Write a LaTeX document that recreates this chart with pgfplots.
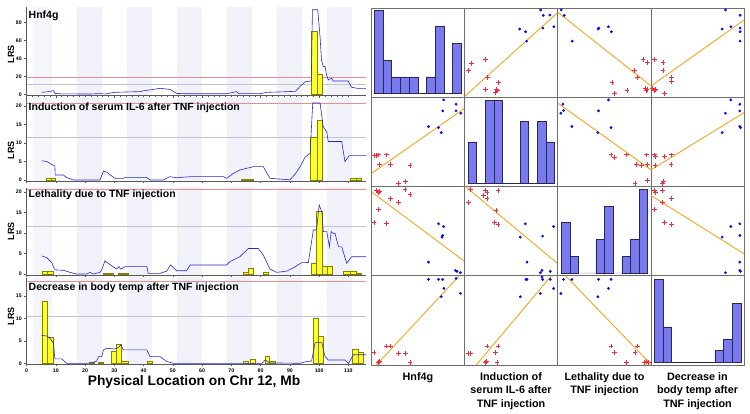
\documentclass[border=0pt]{standalone}
\usepackage{pgfplots}
\pgfplotsset{compat=1.18}
\usepackage{fontspec}
\setmainfont{Liberation Sans}
\definecolor{bandc}{RGB}{241,241,250}
\definecolor{bandl}{RGB}{245,245,252}
\definecolor{redthr}{RGB}{232,140,140}
\definecolor{graythr}{RGB}{195,195,212}
\definecolor{lrsblue}{RGB}{40,40,210}
\definecolor{baryel}{RGB}{255,255,40}
\definecolor{baredge}{RGB}{130,130,0}
\definecolor{gridgray}{RGB}{110,110,110}
\definecolor{dotblue}{RGB}{10,10,240}
\definecolor{crossred}{RGB}{245,40,60}
\definecolor{lineorange}{RGB}{245,165,30}
\definecolor{histblue}{RGB}{122,122,240}
\definecolor{histedge}{RGB}{40,40,80}
\newcommand\band[3][bandc]{\addplot[fill=#1,draw=none] coordinates {(#2,-50)(#2,200)(#3,200)(#3,-50)};}
\newcommand\bands{\band[bandl]{2.3}{8.6}\band{17.2}{25.7}\band{34.3}{42.8}\band{51.4}{59.9}\band{68.5}{77.0}\band{85.7}{94.2}\band{102.7}{111.2}}
\tikzset{ptitle/.style={anchor=north west, inner sep=0pt, font=\fontsize{10.5}{11}\selectfont\bfseries, xshift=2pt}}
\pgfplotsset{
 lrs/.style={scale only axis, width=339.5pt, xmin=0, xmax=116, anchor=north west, axis on top,
  axis x line=bottom, axis y line=left, axis line style={-, draw=black!65, line width=0.4pt},
  tick style={draw=black!65, line width=0.4pt}, tick align=outside, major tick length=2pt, minor tick length=1pt,
  xtick={0,10,...,110}, minor x tick num=4, xticklabels={},
  tick label style={font=\fontsize{5.2}{5.2}\selectfont\bfseries}, /pgf/number format/assume math mode=true,
  yticklabel style={xshift=0.8pt}, xticklabel style={yshift=0.8pt}},
 bars/.style={ybar interval, fill=baryel, draw=baredge, line width=0.4pt},
 curve/.style={no markers, color=lrsblue, line width=0.6pt},
 rthr/.style={no markers, color=redthr, line width=0.5pt},
 gthr/.style={no markers, color=graythr, line width=0.5pt},
 sm/.style={scale only axis, width=93.1pt, height=89.25pt, xmin=0,xmax=1,ymin=0,ymax=1, ticks=none,
  axis line style={draw=gridgray, line width=0.9pt}, anchor=north west},
 bl/.style={only marks, mark=*, mark size=1.2pt, color=dotblue},
 rd/.style={only marks, mark=+, mark size=2.4pt, color=crossred, mark options={draw=crossred, line width=0.85pt}},
 ln/.style={no markers, color=lineorange, line width=0.9pt},
 hist/.style={ybar interval, fill=histblue, draw=histedge, line width=0.5pt},
}
\begin{document}
\begin{tikzpicture}
\path[use as bounding box, fill=white] (0,0) rectangle (750pt,-413pt);
% ---------- Panel 1
\begin{axis}[lrs, at={(26.5pt,-7pt)}, height=88.5pt, ymin=-1.3, ymax=97, ytick={0,20,40,60,80}]
\bands
\addplot[rthr] coordinates {(0,19.2)(116,19.2)};
\addplot[gthr] coordinates {(0,10.8)(116,10.8)};
\addplot[bars] coordinates {(97.2,69.6)(99.2,22.6)(100.9,0)};
\addplot[curve] coordinates {(5.2,2.2)(7,2.8)(9.2,4)(9.7,1)(12,0.5)(19.4,0.4)(22,0.4)(25,0.8)(27,0.4)(30,2.2)(34,2.6)(38.8,3)(40,4)(42,4.8)(45.6,6.7)(49,5.5)(51.3,1)(55,0.6)(68.4,0.7)(71.8,3)(72.5,0.8)(80,0.7)(82,2.2)(88,2.8)(91.9,3.4)(93.6,9.2)(95.3,14)(97.3,14.8)(97.7,94)(99.5,94)(100.3,64)(100.8,38)(101.4,30.7)(102,31)(102.5,22)(103.1,16)(103.6,17)(104.3,17.8)(104.8,14.8)(105.9,14.8)(109.9,14.8)(111.1,7.8)(113,6.7)(116,6.7)};
\node[ptitle, yshift=-3.5pt] at (rel axis cs:0,1) {Hnf4g};
\end{axis}
% ---------- Panel 2
\begin{axis}[lrs, at={(26.5pt,-97pt)}, height=84pt, ymin=-0.27, ymax=22.43, ytick={0,5,10,15,20}]
\bands
\addplot[rthr] coordinates {(0,20.7)(116,20.7)};
\addplot[gthr] coordinates {(0,11.5)(116,11.5)};
\addplot[bars] coordinates {(6.9,0.45)(8.3,0.5)(9.7,0)};
\addplot[bars] coordinates {(73.5,0.1)(75.5,0.15)(77.5,0)};
\addplot[bars] coordinates {(97.1,11.5)(99.2,16.2)(100.9,0)};
\addplot[bars] coordinates {(110.5,0.45)(112.5,0.5)(114.5,0)};
\addplot[curve] coordinates {(5.2,5.2)(6.9,5)(8.6,4.2)(9.7,3.8)(9.8,1.35)(12.6,1.35)(13.7,0.7)(16,0)(25.1,0)(26.3,2.4)(27.4,2.1)(30.2,0.45)(33.1,0.45)(33.7,0.7)(41.1,0.7)(42.2,0)(46.7,0)(49,0.9)(51.3,0.6)(55.9,0.9)(67.3,0.9)(68.4,0.45)(70.7,1.8)(72.9,2.7)(75.2,3.15)(77.5,3.6)(80.9,3.6)(83.2,0.45)(90,0.05)(91.7,1.5)(93.5,3.6)(95.2,6.2)(96.9,7.2)(97.8,20.8)(100.3,20.8)(101.4,14.4)(102.6,13)(103.1,10.4)(107.7,10.4)(108.8,5)(110,6.3)(110.5,6.6)(116,6.6)};
\node[ptitle, yshift=-5.5pt] at (rel axis cs:0,1) {Induction of serum IL-6 after TNF injection};
\end{axis}
% ---------- Panel 3
\begin{axis}[lrs, at={(26.5pt,-187.5pt)}, height=87.5pt, ymin=-0.24, ymax=21.02, ytick={0,5,10,15,20}]
\bands
\addplot[rthr] coordinates {(0,20.65)(116,20.65)};
\addplot[gthr] coordinates {(0,11.5)(116,11.5)};
\addplot[bars] coordinates {(5.2,0.7)(7.2,0.7)(9.2,0)};
\addplot[bars] coordinates {(26.3,0.15)(28,0.15)(29.7,0)};
\addplot[bars] coordinates {(31.5,0.1)(33.1,0.1)(34.8,0)};
\addplot[bars] coordinates {(74,0.4)(75.8,1.5)(77.6,0)};
\addplot[bars] coordinates {(80.9,0.4)(82.6,0)};
\addplot[bars] coordinates {(97.4,2.6)(99.1,15.3)(100.9,1.9)(102.6,2.0)(104.3,0)};
\addplot[bars] coordinates {(108.3,0.6)(110.5,0.8)(112.8,0.3)(114.5,0)};
\addplot[curve] coordinates {(5.2,4.4)(6.9,4.0)(8.6,2.8)(9.7,1.0)(12.6,0.9)(14.9,0.4)(17.1,0)(20.6,0)(21.7,0.4)(22.8,0)(25.1,0.4)(25.7,1.0)(26.8,3.2)(28.5,2.3)(30.8,1.2)(31.6,1.8)(32.2,1.2)(33.7,1.8)(41.1,1.8)(41.6,0.15)(45.6,0.15)(47.9,0.7)(49.2,2.2)(51.3,0.8)(54.7,0.8)(55.9,2.2)(68.4,2.2)(69.5,3.0)(72.9,4.2)(75.8,6.2)(79.2,6.2)(80.9,4.6)(83.2,1.2)(85.5,0.4)(88.9,0.7)(91.2,1.5)(94,2.75)(96.3,2.8)(98,10.7)(99.1,10.7)(100,16.8)(100.9,15.1)(101.4,10.3)(102.6,10.3)(103.5,6.6)(104.1,10.3)(104.8,9.9)(105.4,9.9)(106.6,6.6)(107.7,6.6)(109.4,2.6)(111.1,4.2)(116,4.2)};
\node[ptitle, yshift=-2.5pt] at (rel axis cs:0,1) {Lethality due to TNF injection};
\end{axis}
% ---------- Panel 4
\begin{axis}[lrs, at={(26.5pt,-277.5pt)}, height=86.8pt, ymin=-0.22, ymax=19.13, ytick={0,5,10,15},
  xticklabels={0,10,20,30,40,50,60,70,80,90,100,110}]
\bands
\addplot[rthr] coordinates {(0,18.4)(116,18.4)};
\addplot[gthr] coordinates {(0,10.5)(116,10.5)};
\addplot[bars] coordinates {(5.2,13.8)(7.2,5.8)(9.2,0)};
\addplot[bars] coordinates {(21.5,0.2)(23,0)};
\addplot[bars] coordinates {(24.5,0.3)(26.2,0)};
\addplot[bars] coordinates {(29.1,2.75)(30.8,4.3)(32.5,0.5)(34.8,0)};
\addplot[bars] coordinates {(41.1,0.5)(42.8,0)};
\addplot[bars] coordinates {(74,0.5)(75.8,0)};
\addplot[bars] coordinates {(76.4,1.0)(78.1,0)};
\addplot[bars] coordinates {(81.5,1.5)(83,0.5)(84.9,0)};
\addplot[bars] coordinates {(98,10.0)(99.7,6.0)(101.4,0)};
\addplot[bars] coordinates {(111.3,3.2)(113.3,2.4)(115.1,0)};
\addplot[curve] coordinates {(5.2,6.2)(6.9,6.1)(8,5.6)(9.2,4.5)(9.7,1.0)(12,1.0)(13.7,0)(20.6,0)(22.8,0.2)(24,0.5)(24.6,1.5)(25.7,1.5)(26.3,3.0)(27.4,3.35)(30.2,3.2)(31.4,3.5)(32.2,4.1)(33.1,3.0)(41.1,3.0)(42.2,1.5)(45.6,1.5)(47.9,0.4)(50.2,0)(80.5,0)(81.5,0.75)(83.2,0.1)(93.5,0)(95.7,0.4)(97.4,0.5)(98.6,4.6)(100.9,4.6)(102,1.5)(103.1,0.75)(108.8,0.75)(110,0)(111.7,1.9)(116,1.9)};
\node[ptitle, yshift=-5pt] at (rel axis cs:0,1) {Decrease in body temp after TNF injection};
\end{axis}
\foreach \yy in {54,150,231,316} {\node[rotate=90, font=\fontsize{9}{9}\selectfont\bfseries] at (11pt,-\yy pt) {LRS};}
\node[anchor=base, font=\fontsize{13.8}{14}\selectfont\bfseries] at (194pt,-385pt) {Physical Location on Chr 12, Mb};
% ================= Scatter matrix
% Row 1
\begin{axis}[sm, at={(371.7pt,-8pt)}, xmin=-0.27, xmax=10.38, ymin=-0.22, ymax=5.12]
\addplot[hist] coordinates {(0,5)(1,2)(2,1)(3,1)(4,1)(5,0)(6,1)(7,4)(8,0)(9,3)(10,0)};
\end{axis}
\begin{axis}[sm, at={(464.8pt,-8pt)}]
\addplot[ln] coordinates {(0,0.011)(1,0.951)};
\addplot[bl] coordinates {(0.814,0.978)(0.843,0.918)(0.914,0.921)(0.957,0.790)(0.839,0.775)(0.589,0.764)(0.654,0.734)(0.664,0.629)};
\addplot[rd] coordinates {(0.068,0.378)(0.218,0.423)(0.036,0.296)(0.246,0.217)(0.361,0.165)(0.225,0.086)(0.339,0.086)(0.329,0.049)(0.354,0.071)};
\end{axis}
\begin{axis}[sm, at={(557.9pt,-8pt)}]
\addplot[ln] coordinates {(0,0.951)(1,0.127)};
\addplot[bl] coordinates {(0.036,0.978)(0.068,0.918)(0.154,0.629)(0.432,0.764)(0.439,0.775)(0.543,0.790)(0.575,0.734)};
\addplot[rd] coordinates {(0.914,0.423)(0.964,0.386)(0.825,0.296)(0.857,0.217)(0.582,0.165)(0.611,0.041)(0.743,0.079)(0.939,0.097)(0.946,0.079)(0.957,0.086)};
\end{axis}
\begin{axis}[sm, at={(651.0pt,-8pt)}]
\addplot[ln] coordinates {(0,0.127)(1,0.865)};
\addplot[bl] coordinates {(0.8,0.978)(0.957,0.918)(0.764,0.764)(0.857,0.790)(0.957,0.775)(0.957,0.734)(0.957,0.629)};
\addplot[rd] coordinates {(0.036,0.423)(0.129,0.386)(0.129,0.296)(0.218,0.217)(0.218,0.172)(0.011,0.097)(0.039,0.079)(0.146,0.041)(0.05,0.086)};
\end{axis}
% Row 2
\begin{axis}[sm, at={(371.7pt,-97.25pt)}]
\addplot[ln] coordinates {(0,0.149)(1,0.877)};
\addplot[bl] coordinates {(0.773,0.970)(0.762,0.847)(0.906,0.922)(0.906,0.847)(0.957,0.821)(0.610,0.672)(0.718,0.660)(0.747,0.604)};
\addplot[rd] coordinates {(0.025,0.343)(0.069,0.354)(0.159,0.354)(0.087,0.243)(0.206,0.243)(0.412,0.231)(0.285,0.037)(0.365,0.056)(0.051,0.343)};
\end{axis}
\begin{axis}[sm, at={(464.8pt,-97.25pt)}, xmin=-0.38, xmax=10.38, ymin=-0.16, ymax=4.16]
\addplot[hist] coordinates {(0,2)(1,0)(2,4)(3,4)(4,0)(5,0)(6,3)(7,0)(8,3)(9,2)(10,0)};
\end{axis}
\begin{axis}[sm, at={(557.9pt,-97.25pt)}]
\addplot[ln] coordinates {(0,0.933)(1,0.187)};
\addplot[bl] coordinates {(0.054,0.922)(0.032,0.821)(0.061,0.851)(0.15,0.672)(0.436,0.847)(0.543,0.970)(0.571,0.660)(0.429,0.604)};
\addplot[rd] coordinates {(0.571,0.354)(0.607,0.328)(0.739,0.354)(0.954,0.354)(0.846,0.243)(0.9,0.231)(0.964,0.243)(0.829,0.037)(0.964,0.067)};
\end{axis}
\begin{axis}[sm, at={(651.0pt,-97.25pt)}]
\addplot[ln] coordinates {(0,0.187)(1,0.828)};
\addplot[bl] coordinates {(0.857,0.970)(0.954,0.922)(0.8,0.821)(0.954,0.847)(0.954,0.672)(0.961,0.660)(0.764,0.604)};
\addplot[rd] coordinates {(0.036,0.354)(0.05,0.336)(0.143,0.336)(0.221,0.354)(0.214,0.243)(0.043,0.231)(0.132,0.056)(0.121,0.037)};
\end{axis}
% Row 3
\begin{axis}[sm, at={(371.7pt,-186.5pt)}]
\addplot[ln] coordinates {(0,0.937)(1,0.160)};
\addplot[rd] coordinates {(0.051,0.955)(0.087,0.944)(0.069,0.937)(0.206,0.862)(0.285,0.825)(0.357,0.966)(0.412,0.907)(0.069,0.743)(0.159,0.582)(0.025,0.601)};
\addplot[bl] coordinates {(0.718,0.582)(0.773,0.552)(0.755,0.433)(0.762,0.451)(0.610,0.153)(0.899,0.060)(0.917,0.049)(0.953,0.034)};
\end{axis}
\begin{axis}[sm, at={(464.8pt,-186.5pt)}]
\addplot[ln] coordinates {(0,1.005)(1,0.134)};
\addplot[rd] coordinates {(0.221,0.955)(0.239,0.937)(0.204,0.899)(0.239,0.862)(0.357,0.955)(0.043,0.825)(0.336,0.731)(0.321,0.601)(0.357,0.571)(0.061,0.966)};
\addplot[bl] coordinates {(0.65,0.582)(0.596,0.433)(0.836,0.444)(0.954,0.552)(0.668,0.153)(0.811,0.034)(0.829,0.060)(0.918,0.049)};
\end{axis}
\begin{axis}[sm, at={(557.9pt,-186.5pt)}, xmin=-0.38, xmax=10.38, ymin=-0.18, ymax=5.17]
\addplot[hist] coordinates {(0,3)(1,1)(2,0)(3,0)(4,2)(5,4)(6,0)(7,1)(8,2)(9,5)(10,0)};
\end{axis}
\begin{axis}[sm, at={(651.0pt,-186.5pt)}]
\addplot[ln] coordinates {(0,0.899)(1,0.246)};
\addplot[rd] coordinates {(0.036,0.955)(0.05,0.937)(0.121,0.955)(0.221,0.862)(0.121,0.825)(0.036,0.743)(0.143,0.601)(0.221,0.571)};
\addplot[bl] coordinates {(0.857,0.552)(0.954,0.582)(0.764,0.433)(0.954,0.451)(0.954,0.153)(0.8,0.034)(0.954,0.060)(0.961,0.049)};
\end{axis}
% Row 4
\begin{axis}[sm, at={(371.7pt,-275.75pt)}]
\addplot[ln] coordinates {(0.05,0)(0.94,1)};
\addplot[bl] coordinates {(0.610,0.959)(0.718,0.959)(0.762,0.959)(0.906,0.970)(0.776,0.858)(0.747,0.765)(0.953,0.802)};
\addplot[rd] coordinates {(0.025,0.138)(0.159,0.213)(0.206,0.213)(0.285,0.127)(0.365,0.127)(0.412,0.026)(0.069,0.026)(0.087,0.037)};
\end{axis}
\begin{axis}[sm, at={(464.8pt,-275.75pt)}]
\addplot[ln] coordinates {(0.123,0)(0.93,1)};
\addplot[bl] coordinates {(0.657,0.959)(0.668,0.959)(0.836,0.959)(0.918,0.959)(0.954,0.858)(0.811,0.802)(0.596,0.765)(0.829,0.985)};
\addplot[rd] coordinates {(0.036,0.127)(0.061,0.127)(0.239,0.213)(0.357,0.213)(0.329,0.138)(0.221,0.026)(0.346,0.026)(0.229,0.037)};
\end{axis}
\begin{axis}[sm, at={(557.9pt,-275.75pt)}]
\addplot[ln] coordinates {(0.082,1)(1,0.007)};
\addplot[bl] coordinates {(0.061,0.959)(0.15,0.959)(0.436,0.959)(0.571,0.959)(0.032,0.802)(0.543,0.858)(0.429,0.765)};
\addplot[rd] coordinates {(0.571,0.213)(0.607,0.138)(0.857,0.213)(0.829,0.138)(0.739,0.026)(0.954,0.037)(0.971,0.026)(0.929,0.026)};
\end{axis}
\begin{axis}[sm, at={(651.0pt,-275.75pt)}, xmin=-0.38, xmax=10.38, ymin=-0.2, ymax=7.31]
\addplot[hist] coordinates {(0,7)(1,3)(2,0)(3,0)(4,0)(5,0)(6,0)(7,1)(8,2)(9,5)(10,0)};
\end{axis}
% labels
\begin{scope}[every node/.style={anchor=north, inner sep=0pt, align=center, font=\fontsize{10.8}{13.5}\selectfont\bfseries}]
\node at (417.9pt,-372pt) {Hnf4g};
\node at (511pt,-372pt) {Induction of\\serum IL-6 after\\TNF injection};
\node at (604.5pt,-372pt) {Lethality due to\\TNF injection};
\node at (697.5pt,-372pt) {Decrease in\\body temp after\\TNF injection};
\end{scope}
\end{tikzpicture}
\end{document}
